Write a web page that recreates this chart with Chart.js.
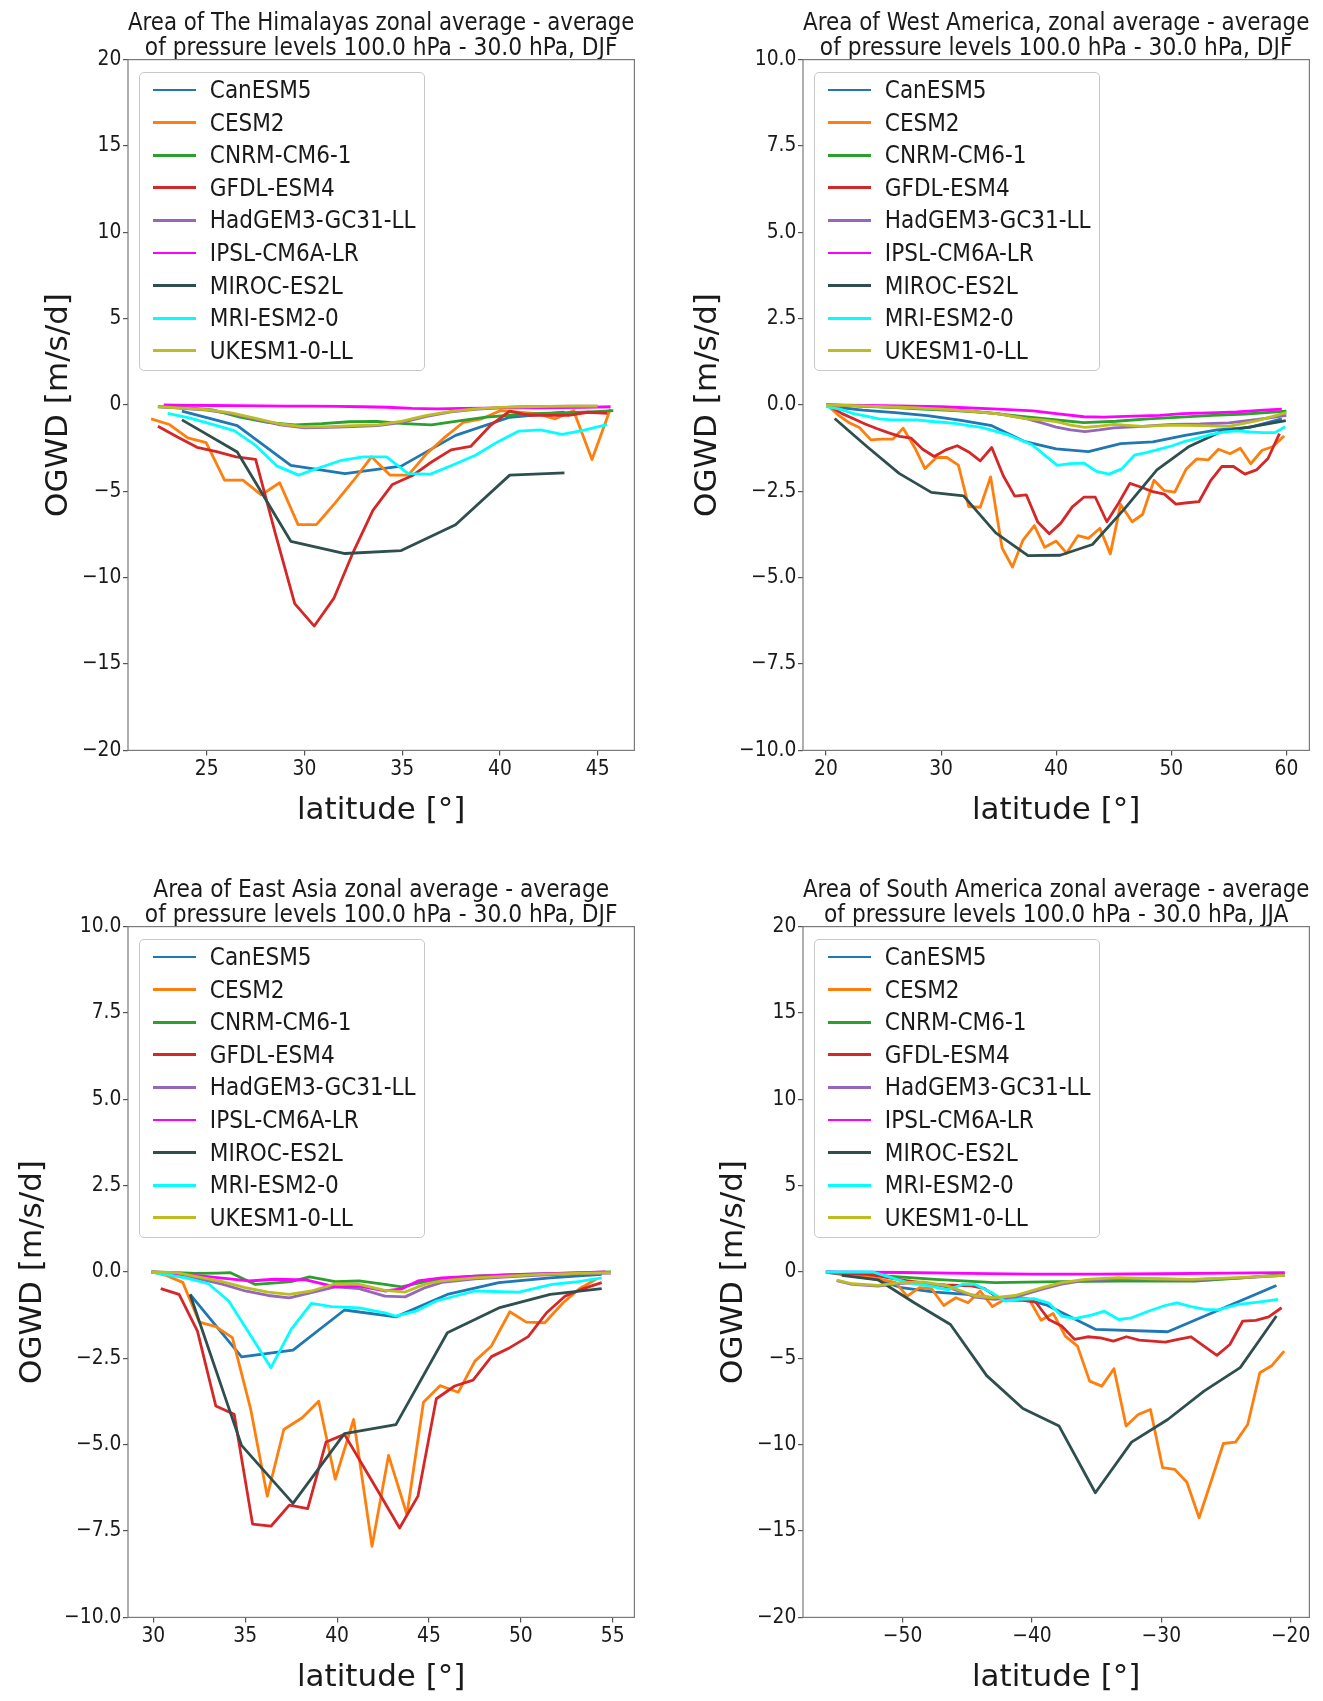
<!DOCTYPE html>
<html><head><meta charset="utf-8">
<script src="https://cdn.jsdelivr.net/npm/chart.js@4.4.0/dist/chart.umd.min.js"></script>
<style>
html,body{margin:0;padding:0;background:#fff;overflow:hidden;width:1323px;height:1701px;}
canvas{position:absolute;}
.legend{position:absolute;box-sizing:border-box;border:1.2px solid #c8c8c8;border-radius:5px;background:rgba(255,255,255,0.85);color:#1a1a1a;}
.legend .row{position:absolute;left:0;height:30px;width:100%;}
.legend .sw{position:absolute;left:13px;width:43px;height:2.8px;}
.legend .lb{position:absolute;left:70px;white-space:nowrap;line-height:30px;top:0;}
</style></head><body>
<script>
// ---------- data ----------
const MODELS = ['CanESM5','CESM2','CNRM-CM6-1','GFDL-ESM4','HadGEM3-GC31-LL','IPSL-CM6A-LR','MIROC-ES2L','MRI-ESM2-0','UKESM1-0-LL'];
const COLORS = ['#1f77b4','#ff7f0e','#2ca02c','#d62728','#9467bd','#ff00ff','#2f4f4f','#00ffff','#bcbd22'];
const Y_TITLE = 'OGWD [m/s/d]';
const X_TITLE = 'latitude [°]';

// Panel 1: The Himalayas
const HIM_TITLE = ['Area of The Himalayas zonal average - average','of pressure levels 100.0 hPa - 30.0 hPa, DJF'];
const HIM_X_TICKS = [25,30,35,40,45];
const HIM_Y_TICKS = [-20,-15,-10,-5,0,5,10,15,20];
const HIM_CanESM5_lat = [23.73,26.56,29.3,32.07,34.95,37.73,40.5,43.3];
const HIM_CanESM5 = [-0.36,-1.19,-3.49,-3.97,-3.54,-1.76,-0.71,-0.42];
const HIM_CESM2_lat = [22.15,23.09,24.03,24.97,25.91,26.85,27.79,28.73,29.67,30.61,31.55,32.49,33.43,34.37,35.31,36.25,37.19,38.13,39.07,40.01,40.95,41.89,42.83,43.77,44.71,45.65];
const HIM_CESM2 = [-0.8,-1.13,-1.9,-2.18,-4.35,-4.35,-5.2,-4.5,-6.93,-6.93,-5.7,-4.4,-3.0,-4.06,-4.06,-2.82,-1.86,-1.0,-0.8,-0.33,-0.42,-0.5,-0.8,-0.33,-3.16,-0.23];
const HIM_CNRM_lat = [22.5,23.9,25.3,26.7,28.1,29.5,30.9,32.3,33.7,35.1,36.5,37.9,39.3,40.7,42.1,43.5,44.9,45.8];
const HIM_CNRM = [-0.1,-0.15,-0.28,-0.7,-1.0,-1.15,-1.08,-0.97,-0.95,-1.08,-1.15,-0.92,-0.7,-0.58,-0.48,-0.44,-0.38,-0.32];
const HIM_GFDL_lat = [22.5,23.5,24.5,25.5,26.5,27.5,28.5,29.5,30.5,31.5,32.5,33.5,34.5,35.5,36.5,37.5,38.5,39.5,40.5,41.5,42.5,43.5,44.5,45.5];
const HIM_GFDL = [-1.23,-1.85,-2.45,-2.7,-3.0,-3.15,-7.4,-11.5,-12.8,-11.2,-8.5,-6.1,-4.6,-4.1,-3.3,-2.6,-2.4,-1.2,-0.35,-0.6,-0.6,-0.6,-0.42,-0.48];
const HIM_HadGEM_lat = [22.5,23.75,25.0,26.25,27.5,28.75,30.0,31.25,32.5,33.75,35.0,36.25,37.5,38.75,40.0,41.25,42.5,43.75,45.0];
const HIM_HadGEM = [-0.1,-0.2,-0.3,-0.5,-0.82,-1.15,-1.32,-1.3,-1.25,-1.2,-1.0,-0.66,-0.4,-0.25,-0.15,-0.1,-0.08,-0.07,-0.06];
const HIM_IPSL_lat = [22.8,24.07,25.34,26.61,27.88,29.15,30.42,31.69,32.96,34.23,35.5,36.77,38.04,39.31,40.58,41.85,43.12,44.39,45.66];
const HIM_IPSL = [0.0,-0.02,-0.03,-0.04,-0.05,-0.06,-0.07,-0.08,-0.1,-0.13,-0.2,-0.22,-0.2,-0.18,-0.17,-0.16,-0.15,-0.14,-0.1];
const HIM_MIROC_lat = [23.73,26.56,29.3,32.07,34.95,37.73,40.5,43.3];
const HIM_MIROC = [-0.86,-2.72,-7.89,-8.6,-8.43,-6.93,-4.06,-3.93];
const HIM_MRI_lat = [23.0,24.1,25.2,26.4,27.5,28.6,29.7,30.8,31.9,33.0,34.2,35.3,36.45,37.56,38.75,39.86,40.97,42.07,43.18,44.2,45.48];
const HIM_MRI = [-0.48,-0.75,-1.09,-1.48,-2.34,-3.54,-4.06,-3.62,-3.2,-3.0,-3.0,-3.97,-4.0,-3.49,-2.91,-2.15,-1.51,-1.44,-1.7,-1.48,-1.13];
const HIM_UKESM_lat = [22.5,23.75,25.0,26.25,27.5,28.75,30.0,31.25,32.5,33.75,35.0,36.25,37.5,38.75,40.0,41.25,42.5,43.75,45.0];
const HIM_UKESM = [-0.1,-0.18,-0.27,-0.45,-0.78,-1.1,-1.27,-1.25,-1.2,-1.15,-0.94,-0.6,-0.37,-0.23,-0.14,-0.1,-0.08,-0.07,-0.06];

// Panel 2: West America
const WAM_TITLE = ['Area of West America, zonal average - average','of pressure levels 100.0 hPa - 30.0 hPa, DJF'];
const WAM_X_TICKS = [20,30,40,50,60];
const WAM_Y_TICKS = [-10,-7.5,-5,-2.5,0,2.5,5,7.5,10];
const WAM_CanESM5_lat = [20.4,23.2,26.0,28.8,31.6,34.4,37.2,40.0,42.8,45.6,48.4,51.2,54.0,56.8,59.6];
const WAM_CanESM5 = [-0.05,-0.15,-0.22,-0.31,-0.44,-0.6,-1.05,-1.27,-1.35,-1.12,-1.07,-0.88,-0.72,-0.65,-0.4];
const WAM_CESM2_lat = [20.2,21.1,22.0,22.9,23.9,24.8,25.8,26.7,27.7,28.6,29.6,30.5,31.5,32.4,33.4,34.3,35.3,36.2,37.1,38.1,39.0,40.0,40.9,41.9,42.8,43.8,44.7,45.6,46.6,47.5,48.5,49.4,50.3,51.3,52.2,53.2,54.1,55.1,56.0,56.9,57.9,58.8,59.8];
const WAM_CESM2 = [-0.03,-0.3,-0.51,-0.65,-1.01,-0.99,-0.99,-0.67,-1.23,-1.84,-1.52,-1.52,-1.74,-2.94,-2.96,-2.08,-4.14,-4.69,-3.92,-3.49,-4.12,-3.94,-4.29,-3.78,-3.86,-3.57,-4.31,-2.88,-3.38,-3.17,-2.18,-2.48,-2.52,-1.85,-1.56,-1.59,-1.28,-1.41,-1.25,-1.7,-1.31,-1.21,-0.9];
const WAM_CNRM_lat = [20.0,22.8,25.6,28.4,31.2,34.0,36.8,39.6,42.4,45.2,48.0,50.8,53.6,56.4,59.2,60.0];
const WAM_CNRM = [0,-0.03,-0.07,-0.12,-0.16,-0.22,-0.32,-0.42,-0.51,-0.47,-0.4,-0.35,-0.3,-0.26,-0.2,-0.18];
const WAM_GFDL_lat = [20.4,21.4,22.4,23.4,24.4,25.4,26.4,27.4,28.4,29.4,30.4,31.4,32.4,33.4,34.4,35.4,36.4,37.4,38.4,39.4,40.4,41.4,42.4,43.4,44.4,45.4,46.4,47.4,48.4,49.4,50.4,51.4,52.4,53.4,54.4,55.4,56.4,57.4,58.4,59.4];
const WAM_GFDL = [-0.05,-0.25,-0.4,-0.55,-0.68,-0.8,-0.91,-0.96,-1.28,-1.49,-1.3,-1.18,-1.36,-1.62,-1.23,-2.05,-2.64,-2.6,-3.39,-3.73,-3.42,-2.95,-2.67,-2.67,-3.38,-2.85,-2.27,-2.38,-2.51,-2.58,-2.87,-2.83,-2.8,-2.2,-1.78,-1.78,-2.0,-1.88,-1.55,-0.83];
const WAM_HadGEM_lat = [20,22.5,25,27.5,30,32.5,35,37.5,38.75,40,41.25,42.5,43.75,45,47.5,50,52.5,55,57.5,60];
const WAM_HadGEM = [0,-0.02,-0.05,-0.08,-0.12,-0.18,-0.26,-0.4,-0.52,-0.64,-0.72,-0.77,-0.72,-0.66,-0.62,-0.56,-0.55,-0.52,-0.42,-0.3];
const WAM_IPSL_lat = [20,25,30,35,38,40,42.4,44.1,46.7,49,51,54,55.7,58,59.6];
const WAM_IPSL = [0,-0.02,-0.05,-0.12,-0.17,-0.25,-0.34,-0.35,-0.32,-0.3,-0.25,-0.22,-0.2,-0.15,-0.12];
const WAM_MIROC_lat = [20.75,23.55,26.35,29.15,31.95,34.75,37.55,40.35,43.15,45.95,48.75,51.55,54.35,57.15,59.95];
const WAM_MIROC = [-0.39,-1.2,-1.98,-2.53,-2.63,-3.7,-4.36,-4.35,-4.04,-3.0,-1.88,-1.2,-0.77,-0.62,-0.45];
const WAM_MRI_lat = [20.0,21.2,22.4,23.5,24.6,25.7,26.8,27.9,29.0,30.1,31.2,32.4,33.5,34.6,35.7,36.8,37.9,39.0,40.1,41.2,42.4,43.5,44.6,45.7,46.8,47.9,49.0,50.1,51.2,52.4,53.5,54.6,55.7,56.8,57.9,59.0,59.9];
const WAM_MRI = [-0.05,-0.12,-0.25,-0.32,-0.4,-0.43,-0.43,-0.43,-0.47,-0.5,-0.53,-0.6,-0.65,-0.75,-0.85,-1.0,-1.15,-1.45,-1.75,-1.7,-1.68,-1.92,-2.0,-1.85,-1.45,-1.37,-1.28,-1.18,-1.05,-0.95,-0.85,-0.78,-0.75,-0.78,-0.8,-0.8,-0.63];
const WAM_UKESM_lat = [20,22.5,25,27.5,30,32.5,35,37.5,38.75,40,41.25,42.5,43.75,45,47.5,50,52.5,55,57.5,60];
const WAM_UKESM = [0,-0.02,-0.05,-0.08,-0.12,-0.18,-0.26,-0.4,-0.43,-0.48,-0.58,-0.65,-0.61,-0.56,-0.62,-0.58,-0.6,-0.62,-0.45,-0.22];

// Panel 3: East Asia
const EAS_TITLE = ['Area of East Asia zonal average - average','of pressure levels 100.0 hPa - 30.0 hPa, DJF'];
const EAS_X_TICKS = [30,35,40,45,50,55];
const EAS_Y_TICKS = [-10,-7.5,-5,-2.5,0,2.5,5,7.5,10];
const EAS_CanESM5_lat = [32.0,34.8,37.6,40.4,43.2,46.0,48.8,51.6,54.4];
const EAS_CanESM5 = [-0.65,-2.46,-2.26,-1.1,-1.3,-0.65,-0.31,-0.17,-0.07];
const EAS_CESM2_lat = [29.9,30.7,31.6,32.5,33.4,34.3,35.3,36.2,37.1,38.1,39.0,39.9,40.9,41.9,42.8,43.8,44.7,45.6,46.6,47.5,48.4,49.4,50.3,51.3,52.3,53.2,54.1];
const EAS_CESM2 = [0,-0.1,-0.3,-1.45,-1.58,-1.9,-3.98,-6.49,-4.56,-4.22,-3.74,-6.0,-4.27,-7.94,-5.31,-7.02,-3.77,-3.29,-3.48,-2.58,-2.14,-1.15,-1.45,-1.47,-0.89,-0.48,-0.21];
const EAS_CNRM_lat = [29.9,31.3,32.3,33.5,34.2,35.55,36.5,37.5,38.5,39.9,41.2,42.6,43.5,44.6,45.7,47.5,49.5,51.5,53.5,54.9];
const EAS_CNRM = [0,-0.02,-0.04,-0.03,-0.02,-0.36,-0.32,-0.28,-0.14,-0.28,-0.26,-0.36,-0.43,-0.3,-0.2,-0.12,-0.08,-0.05,-0.02,0];
const EAS_GFDL_lat = [30.4,31.4,32.4,33.4,34.4,35.4,36.4,37.4,38.4,39.4,40.4,41.4,42.4,43.4,44.4,45.4,46.4,47.4,48.4,49.4,50.4,51.4,52.4,53.4,54.4];
const EAS_GFDL = [-0.48,-0.65,-1.71,-3.88,-4.12,-7.3,-7.36,-6.75,-6.85,-4.92,-4.7,-5.6,-6.5,-7.41,-6.49,-3.67,-3.3,-3.13,-2.45,-2.19,-1.87,-1.18,-0.7,-0.48,-0.31];
const EAS_HadGEM_lat = [29.9,31.25,32.5,33.75,35.0,36.25,37.4,38.6,39.9,41.2,42.6,43.7,44.8,45.7,47.5,49.3,51.1,53.0,54.9];
const EAS_HadGEM = [0,-0.03,-0.2,-0.35,-0.55,-0.68,-0.75,-0.6,-0.43,-0.48,-0.7,-0.72,-0.45,-0.3,-0.2,-0.14,-0.09,-0.05,-0.03];
const EAS_IPSL_lat = [29.9,32.7,35.2,36.6,38.3,39.9,41.2,42.6,43.5,44.4,45.7,47.5,50,52.5,54.6];
const EAS_IPSL = [0,-0.12,-0.26,-0.21,-0.23,-0.43,-0.41,-0.55,-0.49,-0.26,-0.17,-0.12,-0.07,-0.03,0];
const EAS_MIROC_lat = [32.0,34.8,37.6,40.4,43.2,46.0,48.8,51.6,54.4];
const EAS_MIROC = [-0.65,-5.02,-6.7,-4.68,-4.42,-1.76,-1.04,-0.65,-0.48];
const EAS_MRI_lat = [29.9,31.75,33.0,34.1,35.2,36.4,37.5,38.6,39.7,41.2,42.6,43.2,44.3,45.4,47.5,49.9,51.7,52.96,54.4];
const EAS_MRI = [0,-0.17,-0.34,-0.84,-1.76,-2.77,-1.66,-0.91,-1.0,-1.04,-1.18,-1.28,-1.13,-0.84,-0.55,-0.58,-0.36,-0.29,-0.17];
const EAS_UKESM_lat = [29.9,31.25,32.5,33.75,35.0,36.25,37.4,38.6,39.9,41.2,42.6,43.7,44.8,45.7,47.5,49.3,51.1,53.0,54.9];
const EAS_UKESM = [0,-0.02,-0.15,-0.28,-0.45,-0.58,-0.65,-0.55,-0.34,-0.36,-0.53,-0.58,-0.35,-0.26,-0.17,-0.12,-0.07,-0.04,-0.02];

// Panel 4: South America
const SAM_TITLE = ['Area of South America zonal average - average','of pressure levels 100.0 hPa - 30.0 hPa, JJA'];
const SAM_X_TICKS = [-50,-40,-30,-20];
const SAM_Y_TICKS = [-20,-15,-10,-5,0,5,10,15,20];
const SAM_CanESM5_lat = [-55.7,-52.0,-50.1,-47.5,-45.0,-42.3,-40.3,-38.9,-35.1,-29.5,-21.1];
const SAM_CanESM5 = [-0.04,-0.43,-0.91,-1.16,-1.3,-1.55,-1.63,-1.9,-3.32,-3.46,-0.78];
const SAM_CESM2_lat = [-55.28,-54.34,-53.4,-52.46,-51.52,-50.58,-49.64,-48.7,-47.76,-46.82,-45.88,-44.94,-44.0,-43.06,-42.12,-41.18,-40.24,-39.3,-38.36,-37.42,-36.48,-35.54,-34.6,-33.66,-32.72,-31.78,-30.84,-29.9,-28.96,-28.02,-27.08,-26.14,-25.2,-24.26,-23.32,-22.38,-21.44,-20.5];
const SAM_CESM2 = [-0.05,-0.1,-0.2,-0.3,-0.45,-0.6,-1.4,-0.91,-0.97,-1.94,-1.49,-1.78,-1.1,-2.0,-1.59,-1.44,-1.55,-2.79,-2.4,-3.71,-4.29,-6.32,-6.61,-5.6,-8.92,-8.25,-7.96,-11.33,-11.43,-12.17,-14.23,-12.1,-9.93,-9.85,-8.83,-5.83,-5.41,-4.58];
const SAM_CNRM_lat = [-55.94,-53,-51.1,-47.5,-42.9,-37.7,-33.3,-27.4,-24,-20.45];
const SAM_CNRM = [0,-0.1,-0.24,-0.43,-0.62,-0.56,-0.53,-0.53,-0.35,-0.14];
const SAM_GFDL_lat = [-55.7,-54.7,-53.7,-52.7,-51.7,-50.7,-49.7,-48.7,-47.7,-46.7,-45.7,-44.7,-43.7,-42.7,-41.7,-40.7,-39.7,-38.7,-37.7,-36.7,-35.7,-34.7,-33.7,-32.7,-31.7,-30.7,-29.7,-28.7,-27.7,-26.7,-25.7,-24.7,-23.7,-22.7,-21.7,-20.7];
const SAM_GFDL = [-0.04,-0.06,-0.1,-0.14,-0.25,-0.38,-0.5,-0.6,-0.7,-0.75,-0.78,-0.8,-0.95,-1.45,-1.62,-1.64,-1.75,-2.75,-3.13,-3.9,-3.75,-3.81,-4.0,-3.75,-3.94,-4.0,-4.06,-3.9,-3.75,-4.29,-4.83,-4.2,-2.84,-2.8,-2.6,-2.07];
const SAM_HadGEM_lat = [-55.1,-53.9,-51.9,-50.1,-48.3,-46.5,-44.4,-42.9,-41.3,-39.2,-37.7,-35.9,-33.3,-30.75,-27.7,-24.1,-20.45];
const SAM_HadGEM = [-0.5,-0.72,-0.82,-0.66,-0.62,-0.88,-1.45,-1.58,-1.45,-1.0,-0.7,-0.48,-0.38,-0.4,-0.45,-0.35,-0.2];
const SAM_IPSL_lat = [-55.94,-50,-45,-40,-35,-30,-25,-20.45];
const SAM_IPSL = [0,-0.03,-0.08,-0.12,-0.12,-0.1,-0.06,-0.04];
const SAM_MIROC_lat = [-54.7,-51.9,-49.1,-46.3,-43.5,-40.7,-37.9,-35.1,-32.3,-29.5,-26.7,-23.9,-21.1];
const SAM_MIROC = [-0.2,-0.45,-1.78,-3.04,-6.0,-7.9,-8.92,-12.78,-9.85,-8.54,-6.9,-5.54,-2.55];
const SAM_MRI_lat = [-55.94,-52.3,-51.0,-49.6,-48.0,-46.5,-45.4,-44.4,-43.1,-42.1,-41.0,-39.8,-38.7,-37.7,-36.7,-35.4,-34.4,-33.3,-32.3,-31.0,-29.7,-28.8,-27.7,-26.6,-25.6,-24.05,-22.5,-20.96];
const SAM_MRI = [0,0,-0.3,-0.62,-0.81,-1.04,-0.72,-0.72,-1.2,-1.68,-1.59,-1.55,-1.8,-2.55,-2.7,-2.5,-2.27,-2.75,-2.65,-2.27,-1.94,-1.79,-2.0,-2.17,-2.2,-1.88,-1.74,-1.59];
const SAM_UKESM_lat = [-55.1,-53.9,-51.9,-50.1,-48.3,-46.5,-44.4,-42.9,-41.3,-39.2,-37.7,-35.9,-33.3,-30.75,-27.7,-24.1,-20.45];
const SAM_UKESM = [-0.47,-0.68,-0.78,-0.62,-0.58,-0.81,-1.39,-1.49,-1.36,-0.91,-0.62,-0.43,-0.33,-0.39,-0.43,-0.33,-0.19];

// ---------- fonts ----------
function hasFont(name){
  const c = document.createElement('canvas').getContext('2d');
  const s = 'abcdefghijklmnopqrstuvwxyzABCDEFGHIJKLM0123456789';
  c.font = '40px monospace'; const w0 = c.measureText(s).width;
  c.font = "40px '" + name + "', monospace"; const w1 = c.measureText(s).width;
  return Math.abs(w1 - w0) > 0.5;
}
const FONT = "'DejaVu Sans', sans-serif";
const COND = hasFont('DejaVu Sans Condensed');
const FONT_C = COND ? "'DejaVu Sans Condensed', 'DejaVu Sans', sans-serif" : FONT;
const SZ = COND ? {title:24.2, tick:20.8, legend:24} : {title:21.8, tick:18.7, legend:21.8};

// ---------- layout / build ----------
const TXT = '#1a1a1a';
const CW = 648, CH = 832, AX_L = 128, AX_T = 59.6, AX_W = 506.4, AX_B = 750.4;
const TITLE_LH = 25, TITLE_PT = 11.2;

const PANELS = [
  {left:0, top:0, title:HIM_TITLE, xr:[20.97,46.88], yr:[-20,20], xt:HIM_X_TICKS, yt:HIM_Y_TICKS, dec:0, ypad:40,
   lats:[HIM_CanESM5_lat,HIM_CESM2_lat,HIM_CNRM_lat,HIM_GFDL_lat,HIM_HadGEM_lat,HIM_IPSL_lat,HIM_MIROC_lat,HIM_MRI_lat,HIM_UKESM_lat],
   vals:[HIM_CanESM5,HIM_CESM2,HIM_CNRM,HIM_GFDL,HIM_HadGEM,HIM_IPSL,HIM_MIROC,HIM_MRI,HIM_UKESM]},
  {left:675, top:0, title:WAM_TITLE, xr:[18,62], yr:[-10,10], xt:WAM_X_TICKS, yt:WAM_Y_TICKS, dec:1, ypad:14,
   lats:[WAM_CanESM5_lat,WAM_CESM2_lat,WAM_CNRM_lat,WAM_GFDL_lat,WAM_HadGEM_lat,WAM_IPSL_lat,WAM_MIROC_lat,WAM_MRI_lat,WAM_UKESM_lat],
   vals:[WAM_CanESM5,WAM_CESM2,WAM_CNRM,WAM_GFDL,WAM_HadGEM,WAM_IPSL,WAM_MIROC,WAM_MRI,WAM_UKESM]},
  {left:0, top:867, title:EAS_TITLE, xr:[28.62,56.18], yr:[-10,10], xt:EAS_X_TICKS, yt:EAS_Y_TICKS, dec:1, ypad:14,
   lats:[EAS_CanESM5_lat,EAS_CESM2_lat,EAS_CNRM_lat,EAS_GFDL_lat,EAS_HadGEM_lat,EAS_IPSL_lat,EAS_MIROC_lat,EAS_MRI_lat,EAS_UKESM_lat],
   vals:[EAS_CanESM5,EAS_CESM2,EAS_CNRM,EAS_GFDL,EAS_HadGEM,EAS_IPSL,EAS_MIROC,EAS_MRI,EAS_UKESM]},
  {left:675, top:867, title:SAM_TITLE, xr:[-57.7,-18.55], yr:[-20,20], xt:SAM_X_TICKS, yt:SAM_Y_TICKS, dec:0, ypad:40,
   lats:[SAM_CanESM5_lat,SAM_CESM2_lat,SAM_CNRM_lat,SAM_GFDL_lat,SAM_HadGEM_lat,SAM_IPSL_lat,SAM_MIROC_lat,SAM_MRI_lat,SAM_UKESM_lat],
   vals:[SAM_CanESM5,SAM_CESM2,SAM_CNRM,SAM_GFDL,SAM_HadGEM,SAM_IPSL,SAM_MIROC,SAM_MRI,SAM_UKESM]}
];

function fmt(v, dec){ return (v < 0 ? '\u2212' : '') + Math.abs(v).toFixed(dec); }

const framePlugin = {
  id:'frame',
  afterDatasetsDraw(chart){
    const {ctx, chartArea:a} = chart;
    ctx.save(); ctx.strokeStyle = '#7a7a7a'; ctx.lineWidth = 1.2;
    ctx.strokeRect(a.left, a.top, a.right - a.left, a.bottom - a.top);
    ctx.restore();
  }
};

Chart.defaults.font.family = FONT;

PANELS.forEach(p => {
  const cv = document.createElement('canvas');
  cv.width = CW; cv.height = CH;
  cv.style.left = p.left + 'px'; cv.style.top = p.top + 'px';
  cv.style.width = CW + 'px'; cv.style.height = CH + 'px';
  document.body.appendChild(cv);

  const datasets = MODELS.map((m, i) => ({
    label: m,
    data: p.lats[i].map((x, k) => ({x: x, y: p.vals[i][k]})),
    borderColor: COLORS[i], backgroundColor: COLORS[i],
    borderWidth: 2.8, pointRadius: 0, tension: 0, fill: false,
    borderJoinStyle: 'round', borderCapStyle: 'butt',
    order: MODELS.length - i
  }));

  new Chart(cv, {
    type: 'line',
    data: { datasets },
    options: {
      responsive: false, animation: false, devicePixelRatio: 1,
      layout: { padding: { left: 0, right: CW - AX_L - AX_W, top: 0, bottom: 0 } },
      plugins: {
        legend: { display: false }, tooltip: { enabled: false },
        title: { display: true, text: p.title, fullSize: false, color: TXT,
                 font: { family: FONT_C, size: SZ.title, weight: 'normal', lineHeight: TITLE_LH + 'px' },
                 padding: { top: TITLE_PT, bottom: AX_T - TITLE_PT - 2 * TITLE_LH } }
      },
      scales: {
        x: {
          type: 'linear', min: p.xr[0], max: p.xr[1],
          afterBuildTicks: s => { s.ticks = p.xt.map(v => ({ value: v })); },
          afterFit: s => { s.height = CH - AX_B; },
          ticks: { autoSkip: false, maxRotation: 0, padding: 1.5, color: TXT,
                   font: { family: FONT_C, size: SZ.tick }, callback: v => fmt(v, 0) },
          grid: { drawOnChartArea: false, drawTicks: true, tickLength: 5, color: '#555', lineWidth: 1.2 },
          border: { display: false },
          title: { display: true, text: X_TITLE, color: TXT, font: { family: FONT, size: 31, lineHeight: 1.2 },
                   padding: { top: 0, bottom: 2.4 } }
        },
        y: {
          type: 'linear', min: p.yr[0], max: p.yr[1],
          afterBuildTicks: s => { s.ticks = p.yt.map(v => ({ value: v })); },
          afterFit: s => { s.width = AX_L; },
          ticks: { autoSkip: false, padding: 1.6, color: TXT,
                   font: { family: FONT_C, size: SZ.tick }, callback: v => fmt(v, p.dec) },
          grid: { drawOnChartArea: false, drawTicks: true, tickLength: 5, color: '#555', lineWidth: 1.2 },
          border: { display: false },
          title: { display: true, text: Y_TITLE, color: TXT, font: { family: FONT, size: 31, lineHeight: 1.2 },
                   padding: { top: p.ypad, bottom: 0 } }
        }
      }
    },
    plugins: [framePlugin]
  });

  // legend box (HTML)
  const lg = document.createElement('div');
  lg.className = 'legend';
  lg.style.fontFamily = FONT_C;
  lg.style.left = (p.left + AX_L + 10.8) + 'px';
  lg.style.top = (p.top + AX_T + 12) + 'px';
  lg.style.width = '286px'; lg.style.height = '299px';
  MODELS.forEach((m, i) => {
    const row = document.createElement('div');
    row.className = 'row';
    row.style.top = (17.4 + i * 32.6 - 15) + 'px';
    const sw = document.createElement('div');
    sw.className = 'sw'; sw.style.background = COLORS[i]; sw.style.top = '13.6px';
    const lb = document.createElement('div');
    lb.className = 'lb'; lb.textContent = m; lb.style.fontSize = SZ.legend + 'px';
    row.appendChild(sw); row.appendChild(lb);
    lg.appendChild(row);
  });
  document.body.appendChild(lg);
});
</script>
</body></html>
